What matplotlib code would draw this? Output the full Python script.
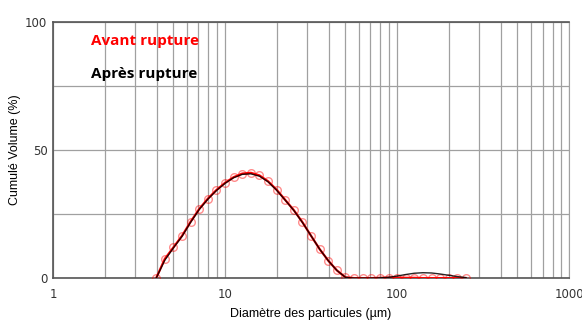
#!/usr/bin/env python3
"""Distribution granulométrique avant / après rupture."""

import matplotlib
matplotlib.use("Agg")
import matplotlib.pyplot as plt
import numpy as np
from matplotlib.ticker import FixedLocator, NullFormatter

# log10 du diamètre (µm), pas de 0.05 (bins type Mastersizer)
log_d = [0.60, 0.65, 0.70, 0.75, 0.80, 0.85, 0.90, 0.95, 1.00, 1.05,
         1.10, 1.15, 1.20, 1.25, 1.30, 1.35, 1.40, 1.45, 1.50, 1.55,
         1.60, 1.65, 1.70, 1.75, 1.80, 1.85, 1.90, 1.95, 2.00, 2.05,
         2.10, 2.15, 2.20, 2.25, 2.30, 2.35, 2.40]

avant = [0.0, 7.5, 12.0, 16.5, 22.0, 27.0, 31.0, 34.4, 37.2, 39.4,
         40.8, 41.1, 40.1, 37.8, 34.5, 30.5, 26.5, 21.8, 16.5, 11.3,
         6.8, 3.0, 0.3, 0.0, 0.0, 0.0, 0.1, 0.2, 0.2, 0.1,
         0.1, 0.0, 0.0, 0.0, 0.0, 0.0, 0.0]

apres = [0.0, 7.0, 11.8, 16.3, 21.8, 26.8, 30.8, 34.2, 37.0, 39.2,
         40.5, 40.7, 39.8, 37.6, 34.3, 30.4, 26.4, 21.7, 16.5, 11.3,
         6.8, 3.0, 0.3, 0.0, 0.0, 0.0, 0.1, 0.3, 0.8, 1.4,
         1.9, 2.1, 2.0, 1.6, 1.1, 0.6, 0.2]

diam = 10 ** np.array(log_d)

fig = plt.figure(figsize=(5.82, 3.23), dpi=100)
ax = fig.add_axes([0.091, 0.139, 0.887, 0.793])

ax.plot(diam, avant, color="#ff0000", lw=1.6, marker="o", ms=5.5,
        mfc="none", mec=(1, 0, 0, 0.45), mew=1.0, zorder=3)
ax.plot(diam, apres, color="black", lw=1.0, alpha=0.85, zorder=4)

ax.set_xscale("log")
ax.set_xlim(1, 1000)
ax.set_ylim(0, 100)

minor = [m * 10 ** e for e in range(0, 3) for m in range(2, 10)]
ax.xaxis.set_minor_locator(FixedLocator(minor))
ax.xaxis.set_minor_formatter(NullFormatter())
ax.set_xticks([1, 10, 100, 1000])
ax.set_xticklabels(["1", "10", "100", "1000"])
ax.set_yticks([0, 50, 100])
ax.set_yticks([25, 75], minor=True)

ax.grid(which="both", color="#a0a0a0", lw=0.9)
ax.tick_params(which="both", length=0, labelsize=8.5, labelcolor="#333333", pad=4)
ax.tick_params(axis="x", pad=7)
for side in ["left", "bottom", "top"]:
    ax.spines[side].set_color("#555555")
    ax.spines[side].set_linewidth(1.2)
ax.spines["right"].set_color("#a0a0a0")

ax.set_xlabel("Diamètre des particules (µm)", fontsize=9, family="Liberation Sans", labelpad=5)
ax.set_ylabel("Cumulé Volume (%)", fontsize=9, family="Liberation Sans", labelpad=3)

ax.text(0.073, 0.925, "Avant rupture", transform=ax.transAxes, color="#ff0000",
        fontsize=11, fontweight="bold", family="Open Sans", va="center")
ax.text(0.073, 0.795, "Après rupture", transform=ax.transAxes, color="black",
        fontsize=11, fontweight="bold", family="Open Sans", va="center")

fig.savefig("out.png", dpi=100)
